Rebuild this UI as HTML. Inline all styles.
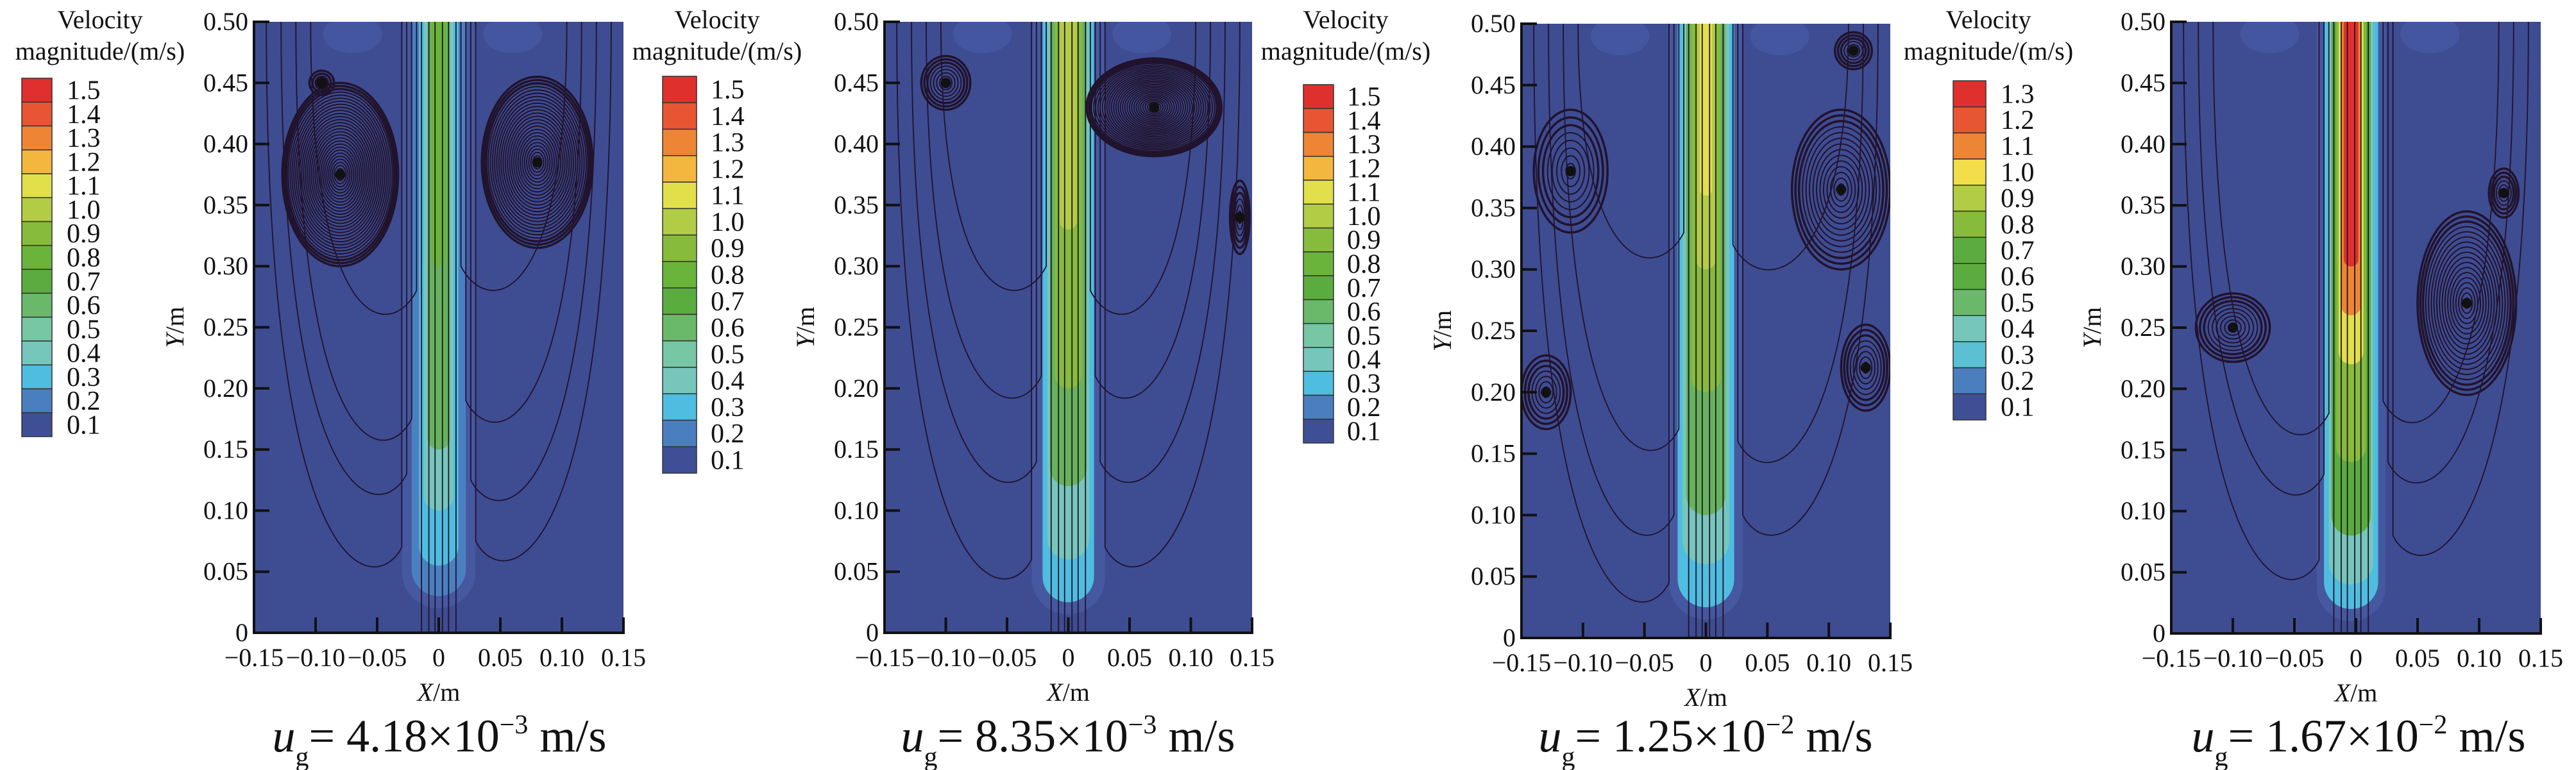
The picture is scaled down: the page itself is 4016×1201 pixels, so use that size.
<!DOCTYPE html>
<html><head><meta charset="utf-8">
<style>
html,body{margin:0;padding:0;background:#fff;}
svg{display:block;}
svg text{font-family:"Liberation Serif","DejaVu Serif",serif;}
</style></head>
<body>
<svg id="fig" width="4016" height="1201" viewBox="0 0 4016 1201" xmlns="http://www.w3.org/2000/svg" font-family="Liberation Serif, serif"></svg>
<script>
// ---- data ----
const xTicks = [-0.15,-0.10,-0.05,0,0.05,0.10,0.15];
const xTickLabels = ["\u22120.15","\u22120.10","\u22120.05","0","0.05","0.10","0.15"];
const yTicks = [0,0.05,0.10,0.15,0.20,0.25,0.30,0.35,0.40,0.45,0.50];
const yTickLabels = ["0","0.05","0.10","0.15","0.20","0.25","0.30","0.35","0.40","0.45","0.50"];
const levels15 = ["1.5","1.4","1.3","1.2","1.1","1.0","0.9","0.8","0.7","0.6","0.5","0.4","0.3","0.2","0.1"];
const colors15 = ["#e0302d","#e85533","#ee8534","#f3b740","#e2e04a","#b2cc45","#86bb3c","#6ab43b","#5aac3e","#6ab86a","#77c6a4","#77c6bc","#4fbde0","#4a7fbf","#3f4f96"];
const levels13 = ["1.3","1.2","1.1","1.0","0.9","0.8","0.7","0.6","0.5","0.4","0.3","0.2","0.1"];
const colors13 = ["#e0302d","#e85533","#ee8534","#f1de48","#b2cc45","#86bb3c","#5aac3e","#5aac3e","#6ab86a","#77c6bc","#5bc0d4","#4a7fbf","#3f4f96"];
const captionValues = ["4.18","8.35","1.25","1.67"];
const captionExps = ["\u22123","\u22123","\u22122","\u22122"];
// jet bands: [halfwidth m, bottom m, color]
const jet1 = [[0.03,0.02,"#4658a0"],[0.022,0.03,"#4a80c0"],[0.016,0.055,"#4fbde0"],[0.012,0.1,"#77c6bc"],[0.009,0.15,"#66b35c"],[0.006,0.3,"#6ab43b"]];
const jet2 = [[0.03,0.015,"#4658a0"],[0.021,0.025,"#4fbde0"],[0.017,0.06,"#77c6bc"],[0.015,0.12,"#66b35c"],[0.011,0.2,"#86bb3c"],[0.007,0.33,"#b2cc45"]];
const jet3 = [[0.03,0.015,"#4658a0"],[0.023,0.025,"#4fbde0"],[0.019,0.06,"#77c6bc"],[0.016,0.1,"#66b35c"],[0.012,0.2,"#86bb3c"],[0.008,0.3,"#b2cc45"],[0.005,0.36,"#e2e04a"]];
const jet4 = [[0.028,0.01,"#4658a0"],[0.022,0.02,"#4fbde0"],[0.018,0.04,"#77c6bc"],[0.016,0.08,"#5aac3e"],[0.012,0.14,"#86bb3c"],[0.01,0.22,"#e2e04a"],[0.008,0.26,"#ee8534"],[0.006,0.3,"#e0302d"]];
// vortices: [cx m, cy m, rx m, ry m, rings]
const vort1 = [[-0.08,0.375,0.047,0.075,30],[0.08,0.385,0.045,0.07,26],[-0.095,0.45,0.01,0.01,4]];
const vort2 = [[-0.10,0.45,0.02,0.022,8],[0.07,0.43,0.055,0.04,30],[0.14,0.34,0.008,0.03,6]];
const vort3 = [[-0.11,0.38,0.03,0.05,8],[0.11,0.365,0.04,0.065,14],[0.12,0.478,0.015,0.015,6],[-0.13,0.2,0.02,0.03,7],[0.13,0.22,0.02,0.035,8]];
const vort4 = [[-0.10,0.25,0.03,0.028,9],[0.09,0.27,0.04,0.075,18],[0.12,0.36,0.012,0.02,6]];
// U-shaped streamline bottoms (m) on each side
const uLeft1 = [0.03,0.09,0.135,0.24], uRight1 = [0.035,0.085,0.15,0.26];
const uLeft2 = [0.02,0.1,0.17,0.26], uRight2 = [0.03,0.1,0.17,0.24];
const uLeft3 = [0.005,0.06,0.13,0.29], uRight3 = [0.06,0.12,0.28];
const uLeft4 = [0.02,0.09,0.14], uRight4 = [0.04,0.1,0.15];

const panels = [
 {L:396,R:972,T:34,B:987,lg:{x:34,y:122,w:47,h:559},lx:104,tcx:156,ccx:685,lev:levels15,col:colors15,jet:jet1,vort:vort1,ul:uLeft1,ur:uRight1,jc:0},
 {L:1379,R:1952,T:34,B:987,lg:{x:1033,y:119,w:53,h:619},lx:1108,tcx:1118,ccx:1665,lev:levels15,col:colors15,jet:jet2,vort:vort2,ul:uLeft2,ur:uRight2,jc:0},
 {L:2372,R:2947,T:37,B:995,lg:{x:2032,y:132,w:47,h:559},lx:2100,tcx:2098,ccx:2659,lev:levels15,col:colors15,jet:jet3,vort:vort3,ul:uLeft3,ur:uRight3,jc:0},
 {L:3385,R:3961,T:34,B:988,lg:{x:3045,y:126,w:51,h:529},lx:3119,tcx:3100,ccx:3677,lev:levels13,col:colors13,jet:jet4,vort:vort4,ul:uLeft4,ur:uRight4,jc:-0.004}
];

const NS="http://www.w3.org/2000/svg";
const svg=document.getElementById("fig");
const FF="Liberation Serif, DejaVu Serif, serif";
function mk(tag,attrs,parent,text){const e=document.createElementNS(NS,tag);for(const k in attrs)e.setAttribute(k,attrs[k]);if(tag==="text")e.setAttribute("font-family",FF);if(text!==undefined)e.textContent=text;(parent||svg).appendChild(e);return e;}

panels.forEach((p,i)=>{
  const g=mk("g",{});
  
  
  const sx=v=>p.L+(v+0.15)/0.3*(p.R-p.L);
  const sy=v=>p.B-v/0.5*(p.B-p.T);
  const clipId="clip"+i;
  const cp=mk("clipPath",{id:clipId},g);
  mk("rect",{x:p.L,y:p.T,width:p.R-p.L,height:p.B-p.T},cp);
  const plot=mk("g",{"clip-path":"url(#"+clipId+")"},g);
  
  
  mk("rect",{x:p.L,y:p.T,width:p.R-p.L,height:p.B-p.T,fill:"#3e4c92"},plot);
  mk("ellipse",{cx:sx(-0.07),cy:sy(0.49),rx:(p.R-p.L)*0.08,ry:30,fill:"#4456a0"},plot);
  mk("ellipse",{cx:sx(0.06),cy:sy(0.49),rx:(p.R-p.L)*0.08,ry:30,fill:"#4456a0"},plot);
  p.jet.forEach(b=>{
    const r=mk("rect",{x:sx(p.jc-b[0]),y:sy(0.52),width:sx(b[0])-sx(-b[0]),height:sy(b[1])-sy(0.52),rx:(sx(b[0])-sx(-b[0]))/2,fill:b[2]},plot);
    
    
  });
  const st={fill:"none",stroke:"#21132c","stroke-width":1.8};
  [-0.014,-0.008,-0.003,0.003,0.008,0.014].forEach(dx=>{
    mk("line",Object.assign({x1:sx(p.jc+dx),y1:sy(0),x2:sx(p.jc+dx),y2:sy(0.5)},st),plot);
  });
  p.ul.forEach((yb,k)=>{
    const xo=-0.14+k*0.012, xi=-0.03+k*0.004;
    const path=mk("path",Object.assign({d:`M${sx(xo)},${sy(0.5)} C${sx(xo)},${sy(yb)} ${sx(xi-0.02)},${sy(yb)} ${sx(xi)},${sy(yb+0.04)} L${sx(xi)},${sy(0.5)}`},st),plot);
    
    
  });
  p.ur.forEach((yb,k)=>{
    const xo=0.14-k*0.012, xi=0.03-k*0.004;
    const path=mk("path",Object.assign({d:`M${sx(xo)},${sy(0.5)} C${sx(xo)},${sy(yb)} ${sx(xi+0.02)},${sy(yb)} ${sx(xi)},${sy(yb+0.04)} L${sx(xi)},${sy(0.5)}`},st),plot);
    
    
  });
  p.vort.forEach(v=>{
    const vg=mk("g",{},plot);
    
    
    for(let k=1;k<=v[4];k++){
      const f=k/v[4];
      mk("ellipse",Object.assign({cx:sx(v[0]),cy:sy(v[1]),rx:(sx(v[2])-sx(0))*f,ry:(sy(0)-sy(v[3]))*f},st,{"stroke-width":k>v[4]-3?3.5:2}),vg);
    }
    mk("circle",{cx:sx(v[0]),cy:sy(v[1]),r:8,fill:"#111"},vg);
  });
  const ax=mk("path",{d:`M${p.L},${p.T-2} L${p.L},${p.B} L${p.R+2},${p.B}`,fill:"none",stroke:"#111","stroke-width":4},g);
  
  
  yTicks.forEach((v,k)=>{
    mk("line",{x1:p.L,y1:sy(v),x2:p.L+24,y2:sy(v),stroke:"#111","stroke-width":4},g);
    const t=mk("text",{x:p.L-9,y:sy(v)+13,"text-anchor":"end","font-size":40,fill:"#111"},g,yTickLabels[k]);
    
    
  });
  xTicks.forEach((v,k)=>{
    mk("line",{x1:sx(v),y1:p.B,x2:sx(v),y2:p.B-24,stroke:"#111","stroke-width":4},g);
    const t=mk("text",{x:sx(v),y:p.B+52,"text-anchor":"middle","font-size":40,fill:"#111"},g,xTickLabels[k]);
    
    
  });
  const xl=mk("text",{x:(p.L+p.R)/2,y:p.B+106,"text-anchor":"middle","font-size":40,fill:"#111"},g);
  
  
  mk("tspan",{"font-style":"italic"},xl,"X");mk("tspan",{},xl,"/m");
  const yx=p.L-110, yy=(p.T+p.B)/2;
  const yl=mk("text",{x:yx,y:yy,"text-anchor":"middle","font-size":40,fill:"#111",transform:`rotate(-90 ${yx} ${yy})`},g);
  
  
  mk("tspan",{"font-style":"italic"},yl,"Y");mk("tspan",{},yl,"/m");
  const lg=mk("g",{},g);
  
  
  const t1=mk("text",{x:p.tcx,y:44,"text-anchor":"middle","font-size":40,fill:"#111"},lg,"Velocity");
  
  
  mk("text",{x:p.tcx,y:93,"text-anchor":"middle","font-size":40,fill:"#111"},lg,"magnitude/(m/s)");
  const n=p.lev.length, bh=p.lg.h/n;
  p.lev.forEach((lab,k)=>{
    const r=mk("rect",{x:p.lg.x,y:p.lg.y+k*bh,width:p.lg.w,height:bh,fill:p.col[k],stroke:"#333","stroke-width":1.5},lg);
    
    
    const t=mk("text",{x:p.lx,y:p.lg.y+k*bh+bh/2+14,"font-size":42,fill:"#111"},lg,lab);
    
    
  });
  const c=mk("text",{x:p.ccx,y:1172,"text-anchor":"middle","font-size":72,fill:"#111"},g);
  
  
  mk("tspan",{"font-style":"italic"},c,"u");
  mk("tspan",{"font-size":42,dy:22},c,"g");
  mk("tspan",{dy:-22},c,"= "+captionValues[i]+"\u00d710");
  mk("tspan",{"font-size":42,dy:-28},c,captionExps[i]);
  mk("tspan",{dy:28},c," m/s");
});
</script>
</body></html>
